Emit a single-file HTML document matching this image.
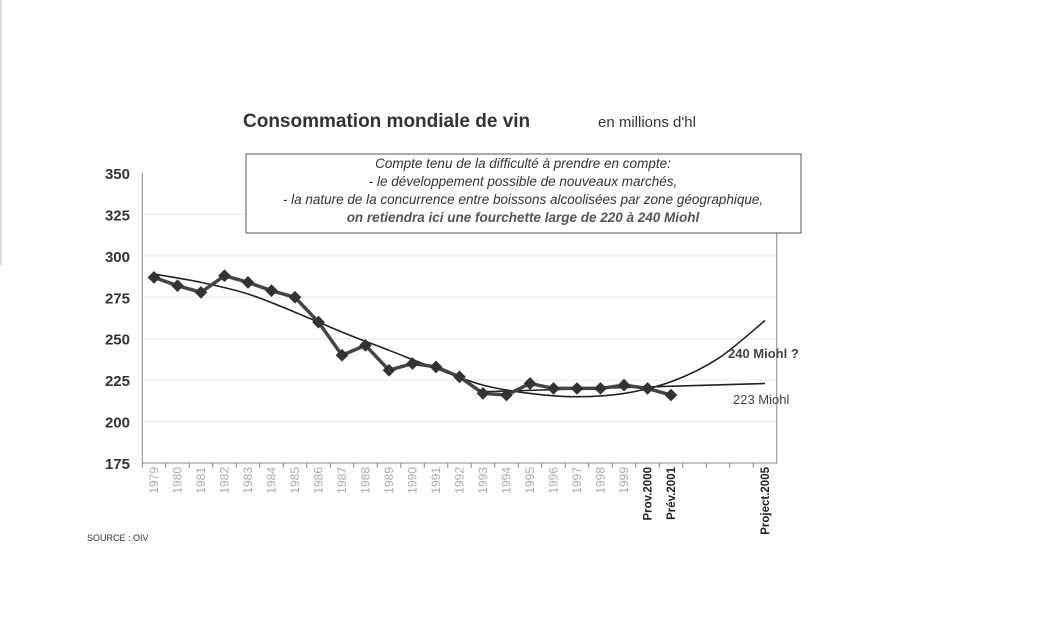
<!DOCTYPE html>
<html><head><meta charset="utf-8"><style>
body{margin:0;background:#fff;width:1050px;height:637px;overflow:hidden;font-family:"Liberation Sans",sans-serif;}
</style></head><body>
<svg width="1050" height="637" xmlns="http://www.w3.org/2000/svg" font-family="Liberation Sans, sans-serif">
<line x1="1" y1="0" x2="1" y2="265" stroke="#bbb"/>
<text x="243" y="127" font-size="19" font-weight="bold" fill="#333">Consommation mondiale de vin</text>
<text x="598" y="127" font-size="15" fill="#333">en millions d'hl</text>
<g id="grid"></g>
<g id="axes"></g>
<g id="series"></g>
<rect x="246" y="154" width="555" height="79" fill="#fff" stroke="#555"/>
<g font-size="13.5" font-style="italic" fill="#333" text-anchor="middle">
<text x="523" y="168">Compte tenu de la difficulté à prendre en compte:</text>
<text x="523" y="186">- le développement possible de nouveaux marchés,</text>
<text x="523" y="204">- la nature de la concurrence entre boissons alcoolisées par zone géographique,</text>
<text x="523" y="222" font-weight="bold" fill="#555">on retiendra ici une fourchette large de 220 à 240 Miohl</text>
</g>
<text x="728" y="358" font-size="13" font-weight="bold" fill="#444">240 Miohl ?</text>
<text x="733" y="404" font-size="13" fill="#444">223 Miohl</text>
<text x="87" y="541" font-size="9" fill="#333">SOURCE : OIV</text>
</svg>
<script>
const categories=["1979","1980","1981","1982","1983","1984","1985","1986","1987","1988","1989","1990","1991","1992","1993","1994","1995","1996","1997","1998","1999","Prov.2000","Prév.2001","","","","Project.2005"];
const consumption=[287,282,278,288,284,279,275,260,240,246,231,235,233,227,217,216,223,220,220,220,222,220,216];
const trendIdx=[0,2,4,6,8,10,12,14,16,18,20,22,24,26];
const trendPoly=[289,284,277,266,254,243,232,222,217,215,217,224,238,261];
const linearIdx=[14,26];
const linearVals=[218,223];
const yTicks=[175,200,225,250,275,300,325,350];
const NS="http://www.w3.org/2000/svg";
const x0=142.25,step=23.5,yTop=173,yBot=463,yMin=175,yMax=350;
const X=i=>x0+step*(i+0.5);
const Y=v=>yBot-(v-yMin)/(yMax-yMin)*(yBot-yTop);
function mk(t,a,p){const e=document.createElementNS(NS,t);for(const k in a)e.setAttribute(k,a[k]);p.appendChild(e);return e;}
const grid=document.getElementById('grid'),axes=document.getElementById('axes'),ser=document.getElementById('series');
const xEnd=x0+step*categories.length;
yTicks.forEach(v=>{
 if(v>yMin&&v<yMax){const g=mk('line',{x1:x0,x2:xEnd,y1:Y(v),y2:Y(v),stroke:'#e6e6e6'},grid);
 
 }
 const t=mk('text',{x:130,y:Y(v)+6,'font-size':15,'font-weight':'bold',fill:'#333','text-anchor':'end'},axes);t.textContent=v;
 
 
});
const fr=mk('path',{d:`M${x0},${yTop}V${yBot}H${xEnd}V${yTop}`,fill:'none',stroke:'#888'},axes);


categories.forEach((c,i)=>{
 mk('line',{x1:x0+step*i,x2:x0+step*i,y1:yBot,y2:yBot+5,stroke:'#888'},axes);
 if(!c)return;
 const bold=c.length>4;
 const t=mk('text',{transform:`translate(${X(i)+4},${yBot+4}) rotate(-90)`,'font-size':bold?11.5:12,'font-weight':bold?'bold':'normal',fill:bold?'#222':'#aaa','text-anchor':'end'},axes);
 t.textContent=c;
 
 
});
const pts=trendIdx.map((i,k)=>[X(i),Y(trendPoly[k])]);
let d=`M${pts[0][0]},${pts[0][1]}`;
for(let k=0;k<pts.length-1;k++){const p0=pts[k-1]||pts[k],p1=pts[k],p2=pts[k+1],p3=pts[k+2]||p2;
 d+=`C${p1[0]+(p2[0]-p0[0])/6},${p1[1]+(p2[1]-p0[1])/6} ${p2[0]-(p3[0]-p1[0])/6},${p2[1]-(p3[1]-p1[1])/6} ${p2[0]},${p2[1]}`;}
const tp=mk('path',{d,fill:'none',stroke:'#222','stroke-width':1.6},ser);


const ln=mk('line',{x1:X(linearIdx[0]),y1:Y(linearVals[0]),x2:X(linearIdx[1]),y2:Y(linearVals[1]),stroke:'#222','stroke-width':1.6},ser);


const dl=mk('polyline',{points:consumption.map((v,i)=>X(i)+','+Y(v)).join(' '),fill:'none',stroke:'#444','stroke-width':3.5,'stroke-linejoin':'round'},ser);


consumption.forEach((v,i)=>{
 const m=mk('rect',{x:X(i)-4.5,y:Y(v)-4.5,width:9,height:9,fill:'#333',transform:`rotate(45 ${X(i)} ${Y(v)})`},ser);
 
 
});
</script>
</body></html>
